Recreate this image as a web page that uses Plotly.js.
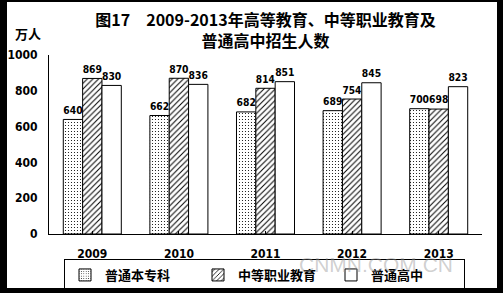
<!DOCTYPE html>
<html><head><meta charset="utf-8">
<script src="https://cdn.plot.ly/plotly-3.0.1.min.js"></script>
<style>
html,body{margin:0;padding:0;background:#000;width:503px;height:293px;overflow:hidden;}
#chart{position:absolute;left:7px;top:2px;width:490px;height:286px;background:#fff;}
</style></head>
<body><div id="chart"></div>
<script>
const years = ['2009','2010','2011','2012','2013'];
const seriesNames = ['普通本专科','中等职业教育','普通高中'];
const undergrad = [640, 662, 682, 689, 700];
const vocational = [869, 870, 814, 754, 698];
const highschool = [830, 836, 851, 845, 823];
const yTicks = [0, 200, 400, 600, 800, 1000];

const numFont = {family:'DejaVu Sans Condensed, Noto Sans CJK SC, sans-serif', size:12, color:'#000', weight:'bold'};
const cjk = 'Noto Sans CJK SC, sans-serif';

function mk(name, vals, pattern){
  const marker = {color:'#fff', line:{color:'#000', width:1}};
  if (pattern) marker.pattern = pattern;
  return {type:'bar', name:name, x:years, y:vals, marker:marker,
    text:vals.map(String), textposition:'outside', cliponaxis:false,
    textfont:numFont, hoverinfo:'none'};
}
const data = [
  mk(seriesNames[0], undergrad, {shape:'.', fgcolor:'#000', bgcolor:'#fff', size:3, solidity:0.12}),
  mk(seriesNames[1], vocational, {shape:'/', fgcolor:'#000', bgcolor:'#fff', size:4, solidity:0.25}),
  mk(seriesNames[2], highschool, null)
];

const layout = {
  width:490, height:286,
  margin:{l:42, r:15, t:53, b:54},
  paper_bgcolor:'#fff', plot_bgcolor:'#fff',
  barmode:'group', bargap:0.33, bargroupgap:0,
  showlegend:true,
  title:{text:'图17　2009-2013年高等教育、中等职业教育及<br>普通高中招生人数', x:0.5, xanchor:'center', xref:'paper', y:1-24/286, yanchor:'top',
    font:{family:cjk, size:16, color:'#000', weight:'bold'}},
  xaxis:{showline:true, linecolor:'#000', linewidth:1, ticks:'inside', ticklen:3, tickcolor:'#000', tickson:'boundaries',
    tickfont:numFont, showgrid:false, zeroline:false, fixedrange:true, ticklabelstandoff:9},
  yaxis:{range:[0,1000], tickvals:yTicks, showline:true, linecolor:'#000', linewidth:1, ticks:'', showgrid:false, zeroline:false,
    tickfont:numFont, ticklabelstandoff:8},
  legend:{orientation:'h', x:(64-49)/433, xanchor:'left', yref:'container', y:1-257/286, yanchor:'top',
    bordercolor:'#000', borderwidth:1, bgcolor:'rgba(0,0,0,0)', entrywidth:88, entrywidthmode:'pixels',
    itemwidth:30, font:{family:cjk, size:13, color:'#000', weight:'bold'}},
  annotations:[
    {text:'万人', xref:'paper', yref:'paper', x:-(42-21)/433, y:1+(53-31)/179, xanchor:'center', yanchor:'middle', showarrow:false,
      font:{family:cjk, size:13, color:'#000', weight:'bold'}},
    {text:'CNMN.COM.CN', xref:'paper', yref:'paper', x:(376-49)/433, y:-(262-232)/179, xanchor:'center', yanchor:'middle', showarrow:false,
      font:{family:'Liberation Sans, Arial, sans-serif', size:21, color:'rgba(150,150,150,0.45)'}}
  ]
};
Plotly.newPlot('chart', data, layout, {staticPlot:true, displayModeBar:false});
</script></body></html>
